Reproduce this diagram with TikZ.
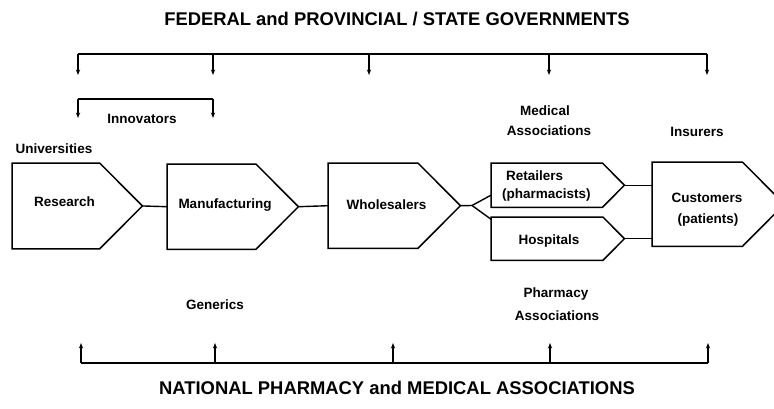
\documentclass[tikz,border=0pt]{standalone}
\usepackage{fontspec}
\setmainfont{Liberation Sans}
\usetikzlibrary{arrows.meta,calc}
\begin{document}
\begin{tikzpicture}[x=1pt,y=-1pt,
  stage/.style={draw=none, rectangle, inner sep=0pt, anchor=north west},
  ink/.style={line width=1.5pt, line join=miter},
  link/.style={line width=1.4pt},
  drop/.style={line width=1.3pt, -{Stealth[length=5.5pt,width=4.2pt,open,line width=1pt]}},
  lab/.style={font=\bfseries\fontsize{13.5}{18}\selectfont, inner sep=0pt, anchor=base},
  labw/.style={lab, anchor=base west},
  head/.style={font=\bfseries\fontsize{18.4}{22}\selectfont, inner sep=0pt, anchor=base}]
\useasboundingbox (0,0) rectangle (774,408);

% supply-chain stages (pentagon arrows)
\node[stage, minimum width=130pt, minimum height=85.5pt] (research) at (12,163) {};
\node[stage, minimum width=131pt, minimum height=85pt]   (manuf)    at (167,164) {};
\node[stage, minimum width=132pt, minimum height=85pt]   (whole)    at (328,163) {};
\node[stage, minimum width=133pt, minimum height=44pt]   (retail)   at (491,163) {};
\node[stage, minimum width=133pt, minimum height=43pt]   (hosp)     at (491,217) {};
\node[stage, minimum width=132pt, minimum height=84pt]   (cust)     at (652,162) {};
\foreach \n/\d in {research/42.75, manuf/42.5, whole/42.5, retail/22, hosp/21.5, cust/42}
  \draw[ink] (\n.north west) -- ([xshift=-\d pt]\n.north east) -- (\n.east)
             -- ([xshift=-\d pt]\n.south east) -- (\n.south west) -- cycle;

% stage names
\node[lab] (tresearch) at (64.5,206.5) {Research};
\node[lab] (tmanuf)    at (225,208)    {Manufacturing};
\node[lab] (twhole)    at (386.5,209)  {Wholesalers};
\node[labw] (tretail)  at (506,180)    {Retailers};
\node[labw] (tpharm)   at (502,198)    {(pharmacists)};
\node[lab] (thosp)     at (549,244)    {Hospitals};
\node[lab] (tcust)     at (707,202)    {Customers};
\node[lab] (tpat)      at (708,223)    {(patients)};

% links between stages
\coordinate (junc) at (472,205.5);
\draw[link] (research.east) -- (manuf.west);
\draw[link] (manuf.east) -- (whole.west);
\draw[link] (whole.east) -- (junc) -- ([yshift=-10pt]retail.west);
\draw[link] (junc) -- ([yshift=19.5pt]hosp.west);
\draw[link] (retail.east) -- (retail.east -| cust.west);
\draw[link] (hosp.east) -- (hosp.east -| cust.west);

% government bracket
\coordinate (govL) at (78,54);
\coordinate (govR) at (707,54);
\draw[link] (govL) -- (govR);
\foreach \x [count=\i] in {78,213,369,549,707} {
  \coordinate (g\i) at (\x,75);
  \draw[drop] (g\i |- govL) -- (g\i);
}

% innovators bracket
\coordinate (innL) at (78,99);
\coordinate (innR) at (213,99);
\coordinate (innLe) at (78,118);
\coordinate (innRe) at (213,118);
\draw[link] (innL) -- (innR);
\draw[drop] (innL) -- (innLe);
\draw[drop] (innR) -- (innRe);

% associations bracket
\coordinate (asL) at (81,363);
\coordinate (asR) at (708,363);
\draw[link] (asL) -- (asR);
\foreach \x [count=\i] in {81,215,393,550,708} {
  \coordinate (a\i) at (\x,343);
  \draw[drop] (a\i |- asL) -- (a\i);
}

% actors
\node[head] (govtitle)   at (397,25)  {FEDERAL and PROVINCIAL / STATE GOVERNMENTS};
\node[head] (assoctitle) at (397,394) {NATIONAL PHARMACY and MEDICAL ASSOCIATIONS};
\node[lab] (innov)    at (142,123) {Innovators};
\node[lab] (univ)     at (54,153)  {Universities};
\node[lab] (medical)  at (545,115) {Medical};
\node[lab] (medassoc) at (549,135) {Associations};
\node[lab] (insurers) at (697,136) {Insurers};
\node[lab] (generics) at (215,309) {Generics};
\node[lab] (pharmacy) at (556,297) {Pharmacy};
\node[lab] (phassoc)  at (557,320) {Associations};
\end{tikzpicture}
\end{document}
